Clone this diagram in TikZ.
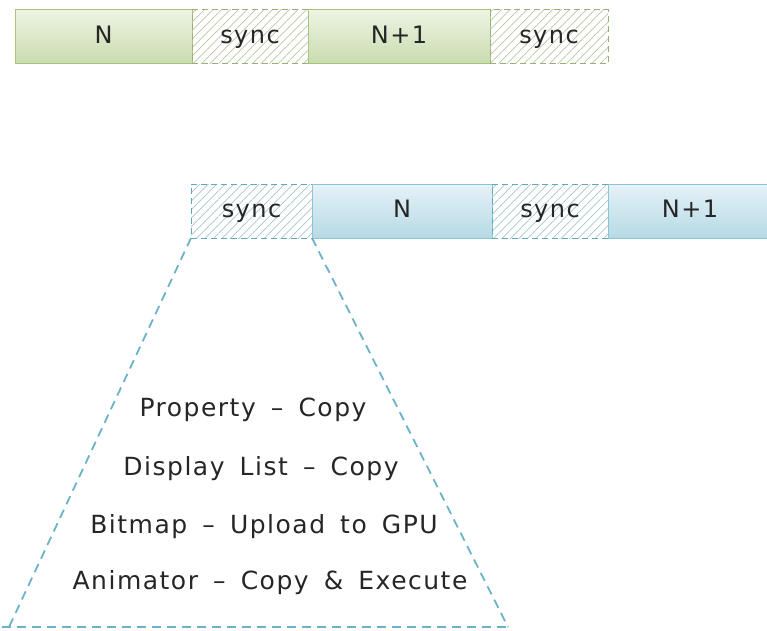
\documentclass[tikz,border=0pt]{standalone}
\usepackage{fontspec}
\setmainfont{DejaVu Sans}[LetterSpace=6, WordSpace=1.6]
\usetikzlibrary{patterns.meta}
\definecolor{gborder}{HTML}{A9C47F}
\definecolor{gtop}{HTML}{EEF4E4}
\definecolor{gbot}{HTML}{C9DCAE}
\definecolor{ghatch}{HTML}{B8C4A8}
\definecolor{bborder}{HTML}{8CC4D4}
\definecolor{btop}{HTML}{E6F2F7}
\definecolor{bbot}{HTML}{B6DAE6}
\definecolor{bdash}{HTML}{5FA9BD}
\definecolor{bhatch}{HTML}{A9C4CC}
\definecolor{trap}{HTML}{6BB3C8}
\begin{document}
\begin{tikzpicture}[x=1pt,y=1pt,
  box/.style={minimum height=54pt, inner sep=0pt, outer sep=0pt,
    text height=18pt, text depth=5pt,
    font=\fontsize{24}{24}\selectfont, text=black!85},
  gframe/.style={box, draw=gborder, line width=0.8pt, top color=gtop, bottom color=gbot},
  gsync/.style={box, draw=gborder!90!black, line width=1pt, dash pattern=on 6pt off 4pt,
    pattern={Lines[angle=45,distance=6pt,line width=0.7pt]}, pattern color=ghatch},
  bframe/.style={box, draw=bborder, line width=0.8pt, top color=btop, bottom color=bbot},
  bsync/.style={box, draw=bdash, line width=1pt, dash pattern=on 6pt off 4pt,
    pattern={Lines[angle=45,distance=6pt,line width=0.7pt]}, pattern color=bhatch},
  trapline/.style={draw=trap, line width=1.8pt, dash pattern=on 9pt off 6pt},
  item/.style={font=\fontsize{25}{25}\selectfont, text=black!85, inner sep=0pt}
]
\useasboundingbox (0,0) rectangle (767,-630);

% upper timeline
\node[gframe, minimum width=177pt] (gN)  at (103.5,-36.5) {N};
\node[gsync,  minimum width=116pt] (gs1) at (250,-36.5) {sync};
\node[gframe, minimum width=182pt] (gN1) at (399,-36.5) {N+1};
\node[gsync,  minimum width=118pt] (gs2) at (549,-36.5) {sync};

% lower timeline
\node[bsync,  minimum width=121pt] (bs1) at (251.5,-211) {sync};
\node[bframe, minimum width=180pt] (bN)  at (402,-211) {N};
\node[bsync,  minimum width=116pt] (bs2) at (550,-211) {sync};
\node[bframe, minimum width=164pt] (bN1) at (690,-211) {N+1};

% expansion of the sync step
\coordinate (bl) at (9,-627);
\coordinate (br) at (508,-627);
\coordinate (bl0) at (2,-627);
\draw[trapline] (bs1.south west) -- (bl);
\draw[trapline] (bs1.south east) -- (br);
\draw[trapline] (bl0) -- (br);

\node[item] (t1) at (253,-410) {Property -- Copy};
\node[item] (t2) at (261,-469) {Display List -- Copy};
\node[item] (t3) at (264,-527) {Bitmap -- Upload to GPU};
\node[item] (t4) at (270,-583) {Animator -- Copy \& Execute};
\end{tikzpicture}
\end{document}
